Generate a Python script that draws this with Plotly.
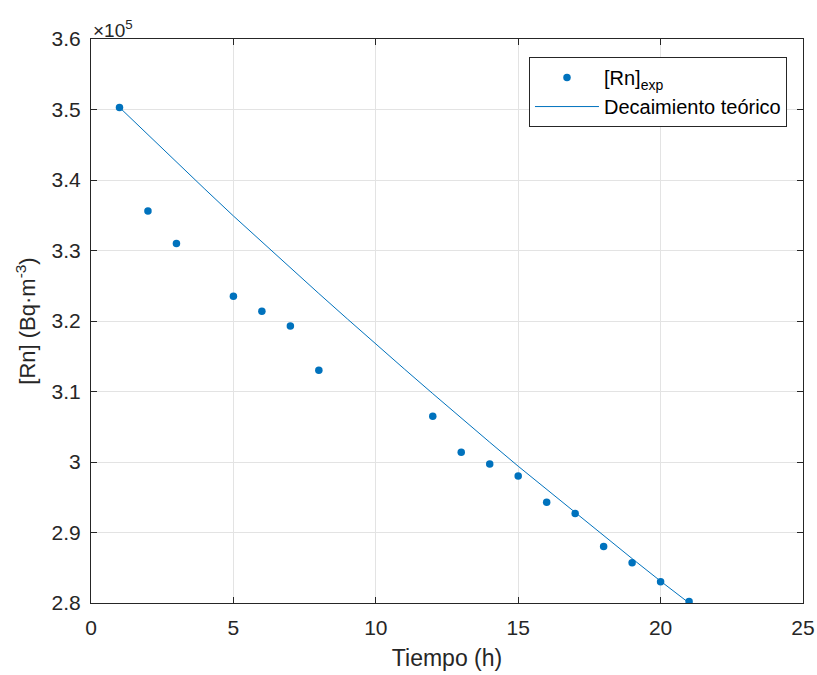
import plotly.graph_objects as go

# Data (values in Bq·m^-3)
t_exp = [1, 2, 3, 5, 6, 7, 8, 12, 13, 14, 15, 16, 17, 18, 19, 20, 21]
rn_exp = [350300, 335600, 331000, 323500, 321400, 319300, 313000, 306500,
          301400, 299700, 298000, 294300, 292700, 288000, 285700, 283000, 280200]

t_teo = [1, 2, 3, 4, 5, 6, 7, 8, 9, 10, 11, 12, 13, 14, 15, 16, 17, 18, 19, 20, 21]
rn_teo = [350300, 346400, 342500, 338700, 334900, 331200, 327500, 323900, 320300,
          316700, 313200, 309700, 306200, 302800, 299400, 296100, 292800, 289500,
          286300, 283100, 280000]

x_ticks = [0, 5, 10, 15, 20, 25]
y_ticks = [280000, 290000, 300000, 310000, 320000, 330000, 340000, 350000, 360000]
y_ticktext = ["2.8", "2.9", "3", "3.1", "3.2", "3.3", "3.4", "3.5", "3.6"]

blue = "#0072BD"
axcol = "#262626"
font = "Liberation Sans, Arial, sans-serif"

fig = go.Figure()
fig.add_trace(go.Scatter(x=t_exp, y=rn_exp, mode="markers",
                         marker=dict(color=blue, size=7.5),
                         name="[Rn]<sub>exp</sub>"))
fig.add_trace(go.Scatter(x=t_teo, y=rn_teo, mode="lines",
                         line=dict(color=blue, width=1),
                         name="Decaimiento teórico"))

axis_common = dict(showline=True, linecolor=axcol, linewidth=1, mirror="ticks",
                   ticks="inside", ticklen=6, tickcolor=axcol,
                   showgrid=True, gridcolor="#e3e3e3", gridwidth=1,
                   zeroline=False, automargin=False, ticklabeloverflow="allow",
                   tickfont=dict(size=21, color=axcol, family=font))

fig.update_xaxes(range=[0, 25], tickvals=x_ticks, ticklabelstandoff=6,
                 title=dict(text="Tiempo (h)", font=dict(size=23, color=axcol, family=font),
                            standoff=11),
                 **axis_common)
fig.update_yaxes(range=[280000, 360000], tickvals=y_ticks, ticktext=y_ticktext,
                 ticklabelstandoff=5,
                 title=dict(text="[Rn] (Bq·m<sup>-3</sup>)",
                            font=dict(size=22, color=axcol, family=font), standoff=9),
                 **axis_common)

fig.add_annotation(x=0, y=1, xref="paper", yref="paper", xanchor="left", yanchor="bottom",
                   text="×10<sup>5</sup>", showarrow=False, yshift=-4,
                   font=dict(size=19, color=axcol, family=font))

fig.update_layout(
    width=817, height=675,
    margin=dict(l=91, r=14, t=39, b=72),
    paper_bgcolor="white", plot_bgcolor="white",
    font=dict(family=font, color=axcol),
    showlegend=True,
    legend=dict(x=0.9775, y=0.968, xanchor="right", yanchor="top",
                bgcolor="white", bordercolor=axcol, borderwidth=1,
                font=dict(size=20, color="#000000", family=font),
                itemwidth=64, tracegroupgap=0),
)

fig.write_html("out.html")
